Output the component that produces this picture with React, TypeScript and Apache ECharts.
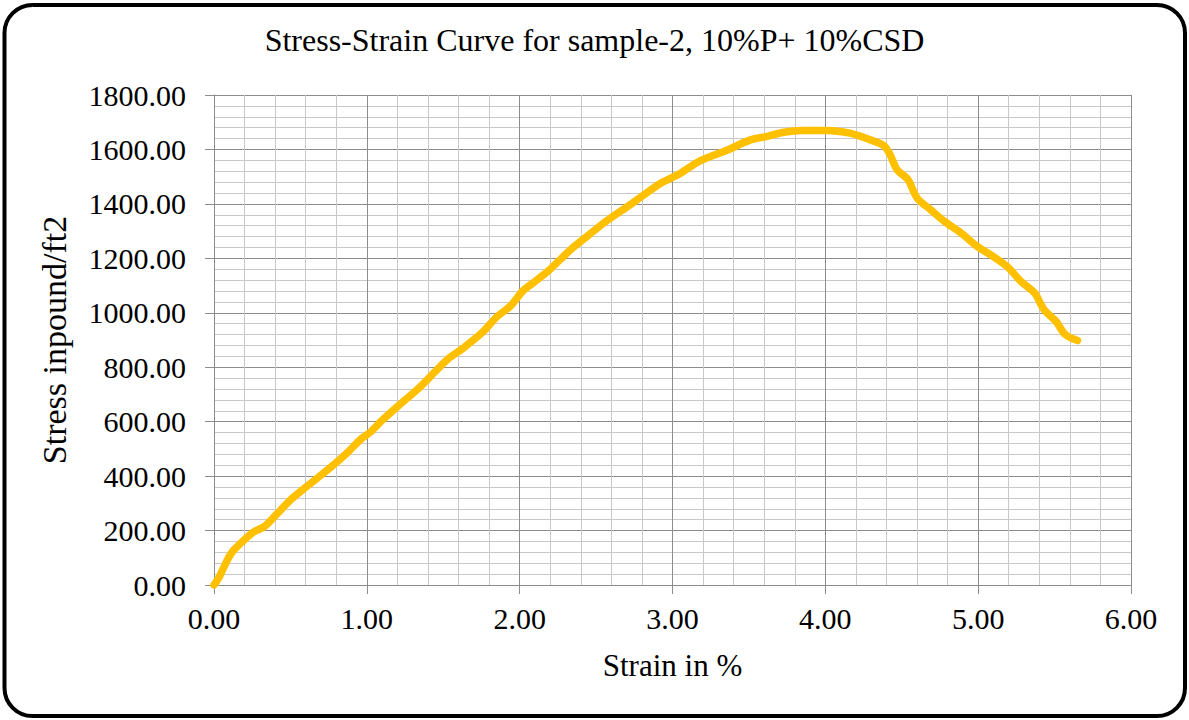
import React, { useEffect, useRef } from "react";
import * as echarts from "echarts";

const chartTitle = "Stress-Strain Curve for sample-2, 10%P+ 10%CSD";
const xAxisName = "Strain in %";
const yAxisName = "Stress inpound/ft2";

const strain = [
  0.0, 0.03, 0.06, 0.1, 0.13, 0.21, 0.26, 0.33, 0.41, 0.5, 0.58, 0.67, 0.78,
  0.87, 0.96, 1.02, 1.1, 1.22, 1.33, 1.44, 1.53, 1.63, 1.76, 1.85, 1.94, 2.02,
  2.1, 2.18, 2.27, 2.35, 2.45, 2.57, 2.7, 2.8, 2.92, 3.05, 3.18, 3.36, 3.51,
  3.62, 3.73, 3.84, 4.01, 4.16, 4.27, 4.38, 4.42, 4.47, 4.54, 4.6, 4.69, 4.78,
  4.89, 4.99, 5.1, 5.19, 5.28, 5.37, 5.43, 5.51, 5.57, 5.65,
];
const stress = [
  0, 25, 60, 105, 129, 172, 195, 215, 260, 312, 350, 390, 440, 485, 535, 560,
  605, 665, 718, 780, 830, 870, 930, 985, 1025, 1080, 1115, 1150, 1198, 1240,
  1285, 1338, 1388, 1428, 1475, 1512, 1558, 1598, 1635, 1648, 1663, 1670, 1670,
  1660, 1640, 1615, 1585, 1525, 1490, 1422, 1378, 1335, 1292, 1245, 1206, 1170,
  1115, 1072, 1012, 968, 920, 898,
];

const FONT = "'Times New Roman', 'Liberation Serif', serif";

export default function App() {
  const ref = useRef<HTMLDivElement>(null);
  useEffect(() => {
    if (!ref.current) return;
    const chart = echarts.init(ref.current, null, { renderer: "svg" });
    const data = strain.map((s, i) => [s, stress[i]]);
    chart.setOption({
      animation: false,
      backgroundColor: "#fff",
      title: {
        text: chartTitle,
        left: "center",
        top: 19,
        textStyle: { fontFamily: FONT, fontSize: 32, fontWeight: "normal", color: "#000" },
      },
      grid: { left: 214, right: 58, top: 95, bottom: 135, containLabel: false },
      xAxis: {
        type: "value",
        min: 0,
        max: 6,
        interval: 1,
        name: xAxisName,
        nameLocation: "middle",
        nameGap: 65,
        nameTextStyle: { fontFamily: FONT, fontSize: 31, color: "#000" },
        axisLine: { show: true, lineStyle: { color: "#8c8c8c", width: 1 } },
        axisTick: { show: true, length: 9, lineStyle: { color: "#8c8c8c" } },
        axisLabel: {
          margin: 18,
          fontFamily: FONT,
          fontSize: 30,
          color: "#000",
          formatter: (v: number) => v.toFixed(2),
        },
        splitLine: { show: true, lineStyle: { color: "#8c8c8c", width: 1 } },
        minorTick: { show: false, splitNumber: 5 },
        minorSplitLine: { show: true, lineStyle: { color: "#c8c8c8", width: 1 } },
      },
      yAxis: {
        type: "value",
        min: 0,
        max: 1800,
        interval: 200,
        name: yAxisName,
        nameLocation: "middle",
        nameGap: 143,
        nameRotate: 90,
        nameTextStyle: { fontFamily: FONT, fontSize: 34, color: "#000" },
        axisLine: { show: true, lineStyle: { color: "#8c8c8c", width: 1 } },
        axisTick: { show: true, length: 9, lineStyle: { color: "#8c8c8c" } },
        axisLabel: {
          margin: 28,
          fontFamily: FONT,
          fontSize: 30,
          color: "#000",
          formatter: (v: number) => v.toFixed(2),
        },
        splitLine: { show: true, lineStyle: { color: "#8c8c8c", width: 1 } },
        minorTick: { show: false, splitNumber: 5 },
        minorSplitLine: { show: true, lineStyle: { color: "#c8c8c8", width: 1 } },
      },
      series: [
        {
          type: "line",
          data,
          smooth: 0.3,
          showSymbol: false,
          symbol: "none",
          lineStyle: { color: "#FFC000", width: 7.5, cap: "round", join: "round" },
        },
      ],
      graphic: [
        {
          type: "rect",
          shape: { x: 4.5, y: 5, width: 1180.5, height: 711, r: 28 },
          style: { fill: "none", stroke: "#000", lineWidth: 4 },
          silent: true,
          z: 100,
        },
      ],
    });
    return () => chart.dispose();
  }, []);
  return (
    <div
      ref={ref}
      style={{ position: "absolute", left: 0, top: 0, width: 1189, height: 720 }}
    />
  );
}
